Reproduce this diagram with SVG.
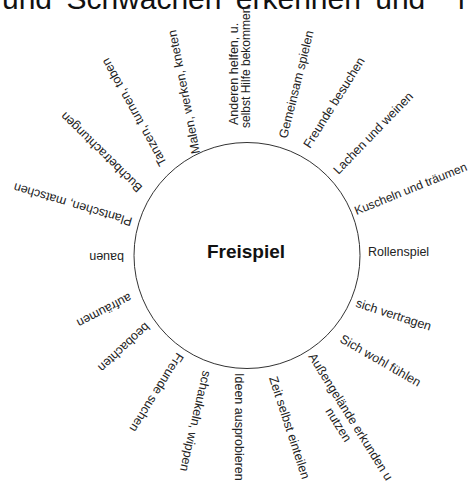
<svg xmlns="http://www.w3.org/2000/svg" width="469" height="484" viewBox="0 0 469 484">
<style>
.l{font-family:"Liberation Sans",Arial,sans-serif;font-size:12.5px;fill:#222}
.s{font-size:12px}
.t{font-family:"Liberation Sans",Arial,sans-serif;font-size:30px;fill:#111;word-spacing:6px}
.c{font-family:"Liberation Sans",Arial,sans-serif;font-size:19px;font-weight:bold;fill:#111}
</style>
<rect width="469" height="484" fill="#fff"/>
<text class="t" x="2" y="9">und Schwächen erkennen und <tspan x="458">i</tspan></text>
<g id="center">
<circle cx="247" cy="255.5" r="113" fill="none" stroke="#333" stroke-width="1"/>
<text class="c" x="246" y="258" text-anchor="middle">Freispiel</text>
</g>
<g id="labels">
<g id="n1"><text class="l" transform="translate(238,125) rotate(-90)">Anderen helfen, u.</text><text class="l s" transform="translate(250,128) rotate(-90)">selbst Hilfe bekommen</text></g>
<g id="n2"><text class="l" transform="translate(287,139) rotate(-76)">Gemeinsam spielen</text></g>
<g id="n3"><text class="l" transform="translate(310,149) rotate(-58)">Freunde besuchen</text></g>
<g id="n4"><text class="l" transform="translate(338.5,175) rotate(-46)">Lachen und weinen</text></g>
<g id="n5"><text class="l s" transform="translate(356.5,215) rotate(-22)">Kuscheln und träumen</text></g>
<g id="n6"><text class="l" transform="translate(368,256)">Rollenspiel</text></g>
<g id="n7"><text class="l" transform="translate(355,306.5) rotate(18)">sich vertragen</text></g>
<g id="n8"><text class="l" transform="translate(339,341.5) rotate(30)">Sich wohl fühlen</text></g>
<g id="n9"><text class="l" transform="translate(308,356.5) rotate(58)">Außengelände erkunden u</text><text class="l" transform="translate(325,411) rotate(58)">nutzen</text></g>
<g id="n10"><text class="l" transform="translate(269,378) rotate(72)">Zeit selbst einteilen</text></g>
<g id="n11"><text class="l" transform="translate(235,373) rotate(90)">Ideen ausprobieren</text></g>
<g id="n12"><text class="l" transform="translate(203,370) rotate(103)">schaukeln, wippen</text></g>
<g id="n13"><text class="l" transform="translate(177,352) rotate(122)">Freunde suchen</text></g>
<g id="n14"><text class="l" transform="translate(145,322) rotate(137)">beobachten</text></g>
<g id="n15"><text class="l" transform="translate(129,293) rotate(152.6)">aufräumen</text></g>
<g id="n16"><text class="l" transform="translate(124,253) rotate(180)">bauen</text></g>
<g id="n17"><text class="l" transform="translate(133,218) rotate(-163.5)">Plantschen, matschen</text></g>
<g id="n18"><text class="l" transform="translate(143,187) rotate(-135.7)">Buchbetrachtungen</text></g>
<g id="n19"><text class="l" transform="translate(167,163) rotate(-119)">Tanzen, turnen, toben</text></g>
<g id="n20"><text class="l" transform="translate(200,153) rotate(-101)">Malen, werken, kneten</text></g>
</g>
<g id="connectors"></g>
</svg>
